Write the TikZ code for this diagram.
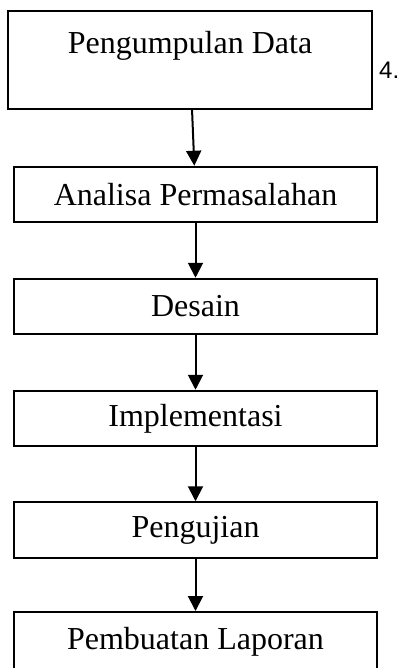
\documentclass[tikz,border=0pt]{standalone}
\usepackage{fontspec}
\setmainfont{Liberation Serif}
\newfontfamily\numfont{Liberation Sans}
\usetikzlibrary{arrows.meta}

\begin{document}
\begin{tikzpicture}[x=1pt,y=-1pt]
  \tikzset{tahap/.style = {shape=rectangle,draw,line width=2pt,minimum width=363pt,minimum height=55.5pt,inner sep=0pt,align=center,font=\fontsize{32}{36}\selectfont}}
  \tikzset{panah/.style = {-{Triangle[width=15pt,length=15pt]},line width=2pt}}
  \clip (0,0) rectangle (400,668);
	\node[tahap][minimum width=364pt,minimum height=98pt] (b1) at (190,60) {Pengumpulan Data\\ \mbox{}};
	\node[font=\numfont\fontsize{24}{28}\selectfont,anchor=west,inner sep=0pt] (num) at (379,70) {4.};
	\node[tahap] (b2) at (195.5,194.5) {Analisa Permasalahan};
	\node[tahap] (b3) at (195.5,306.5) {Desain};
	\node[tahap] (b4) at (195.5,418.5) {Implementasi};
	\node[tahap] (b5) at (195.5,530) {Pengujian};
	\node[tahap][minimum height=60pt] (b6) at (195.5,642) {Pembuatan Laporan};

    \foreach \from/\to in {b1/b2,b2/b3,b3/b4,b4/b5,b5/b6}
    \draw[panah] (\from) -- (\to);
\end{tikzpicture}
\end{document}
